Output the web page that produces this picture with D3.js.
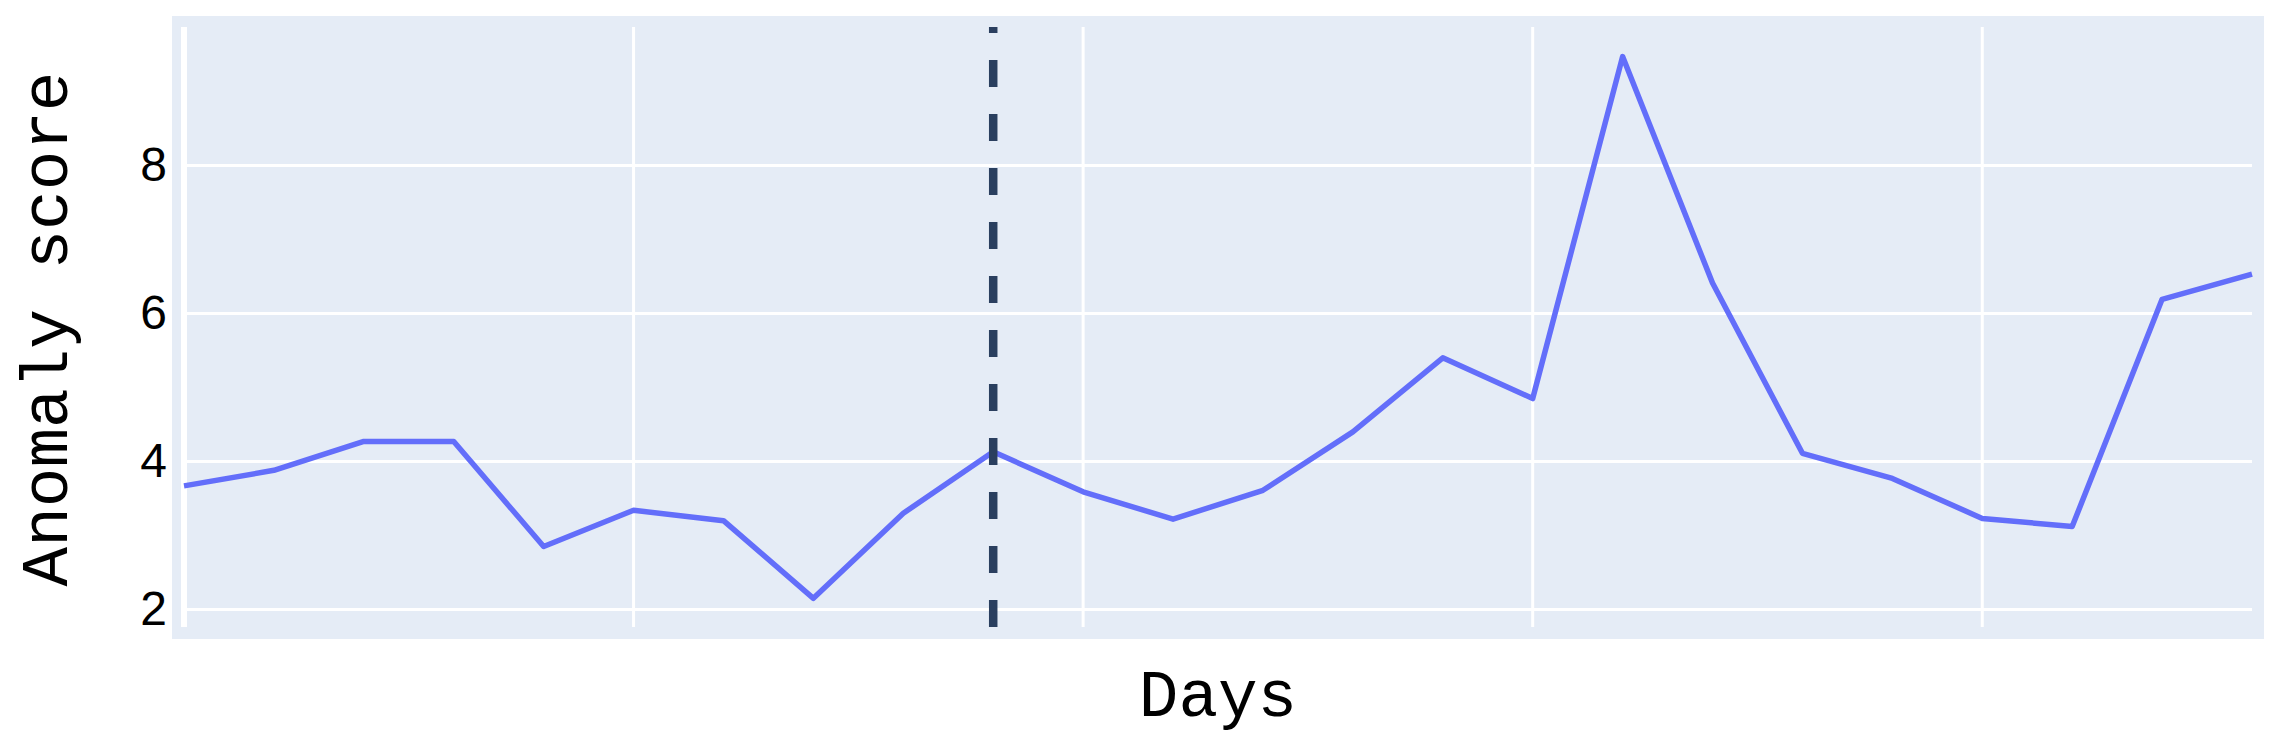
<!DOCTYPE html>
<html>
<head>
<meta charset="utf-8">
<script src="https://cdn.jsdelivr.net/npm/d3@7"></script>
<style>
    html, body { margin: 0; padding: 0; background: #fff; }
    svg { display: block; }
</style>
</head>
<body>
<svg id="chart" width="2280" height="756"></svg>
<script>
// Anomaly score per day
var days = d3.range(0, 24);
var scores = [3.67, 3.88, 4.27, 4.27, 2.85, 3.34, 3.20, 2.15, 3.30, 4.13,
              3.59, 3.22, 3.61, 4.40, 5.40, 4.85, 9.47, 6.41, 4.11, 3.77,
              3.23, 3.12, 6.19, 6.53];
var yTicks = [2, 4, 6, 8];
var xGridDays = [5, 10, 15, 20];
var markerDay = 9;
var xTitle = "Days";
var yTitle = "Anomaly score";

/**
 * Plotly-like line chart with a dashed marker at a given day.
 * @param svg
 * @param {Object} settings - override of the defaults
 * @constructor
 */
function AnomalyChart(svg, settings) {

    var self = this;

    var defaults = {
        left: 184, right: 2252, top: 27, bottom: 627,
        bgPad: 12,
        bg: "#e5ecf6",
        lineColor: "#636efa",
        markerColor: "#2a3f5f",
        tickFont: "'Liberation Sans', Arial, sans-serif",
        titleFont: "'Liberation Mono', 'Courier New', monospace"
    };

    self.config = Object.assign({}, defaults, settings || {});

    var c = self.config;
    var x = d3.scaleLinear().domain([0, 23]).range([c.left, c.right]);
    var y = d3.scaleLinear().domain([1.763, 9.87]).range([c.bottom, c.top]);

    self.draw = function () {

        svg.append("rect")
            .attr("x", c.left - c.bgPad)
            .attr("y", c.top - c.bgPad + 1)
            .attr("width", c.right - c.left + 2 * c.bgPad)
            .attr("height", c.bottom - c.top + 2 * c.bgPad - 1)
            .attr("fill", c.bg);

        // horizontal grid
        svg.append("g").selectAll("line")
            .data(yTicks).join("line")
            .attr("x1", c.left).attr("x2", c.right)
            .attr("y1", function (d) { return y(d); })
            .attr("y2", function (d) { return y(d); })
            .attr("stroke", "#fff")
            .attr("stroke-width", 3);

        // vertical grid
        svg.append("g").selectAll("line")
            .data(xGridDays).join("line")
            .attr("x1", function (d) { return x(d); })
            .attr("x2", function (d) { return x(d); })
            .attr("y1", c.top).attr("y2", c.bottom)
            .attr("stroke", "#fff")
            .attr("stroke-width", 3);

        // zero line
        svg.append("line")
            .attr("x1", x(0)).attr("x2", x(0))
            .attr("y1", c.top).attr("y2", c.bottom)
            .attr("stroke", "#fff")
            .attr("stroke-width", 6);

        var yAxis = d3.axisLeft(y).tickValues(yTicks).tickSize(0).tickPadding(17);
        var gy = svg.append("g")
            .attr("transform", "translate(" + c.left + ",0)")
            .call(yAxis);
        gy.select(".domain").remove();
        gy.selectAll("text")
            .attr("font-family", c.tickFont)
            .attr("font-size", 48)
            .attr("fill", "#000");

        var line = d3.line()
            .x(function (d, i) { return x(days[i]); })
            .y(function (d) { return y(d); });

        svg.append("path")
            .datum(scores)
            .attr("d", line)
            .attr("fill", "none")
            .attr("stroke", c.lineColor)
            .attr("stroke-width", 5.5)
            .attr("stroke-linejoin", "round");

        // dashed marker, drawn from bottom up so the dashes line up like the original
        svg.append("line")
            .attr("x1", x(markerDay)).attr("x2", x(markerDay))
            .attr("y1", c.bottom).attr("y2", c.top)
            .attr("stroke", c.markerColor)
            .attr("stroke-width", 8.5)
            .attr("stroke-dasharray", "27,27");

        svg.append("text")
            .attr("x", (c.left + c.right) / 2)
            .attr("y", 716)
            .attr("text-anchor", "middle")
            .attr("font-family", c.titleFont)
            .attr("font-size", 66)
            .attr("fill", "#000")
            .text(xTitle);

        svg.append("text")
            .attr("transform", "translate(67," + ((c.top + c.bottom) / 2 + 2) + ") rotate(-90)")
            .attr("text-anchor", "middle")
            .attr("font-family", c.titleFont)
            .attr("font-size", 66)
            .attr("fill", "#000")
            .text(yTitle);
    };
}

var chart = new AnomalyChart(d3.select("#chart"));
chart.draw();
</script>
</body>
</html>
